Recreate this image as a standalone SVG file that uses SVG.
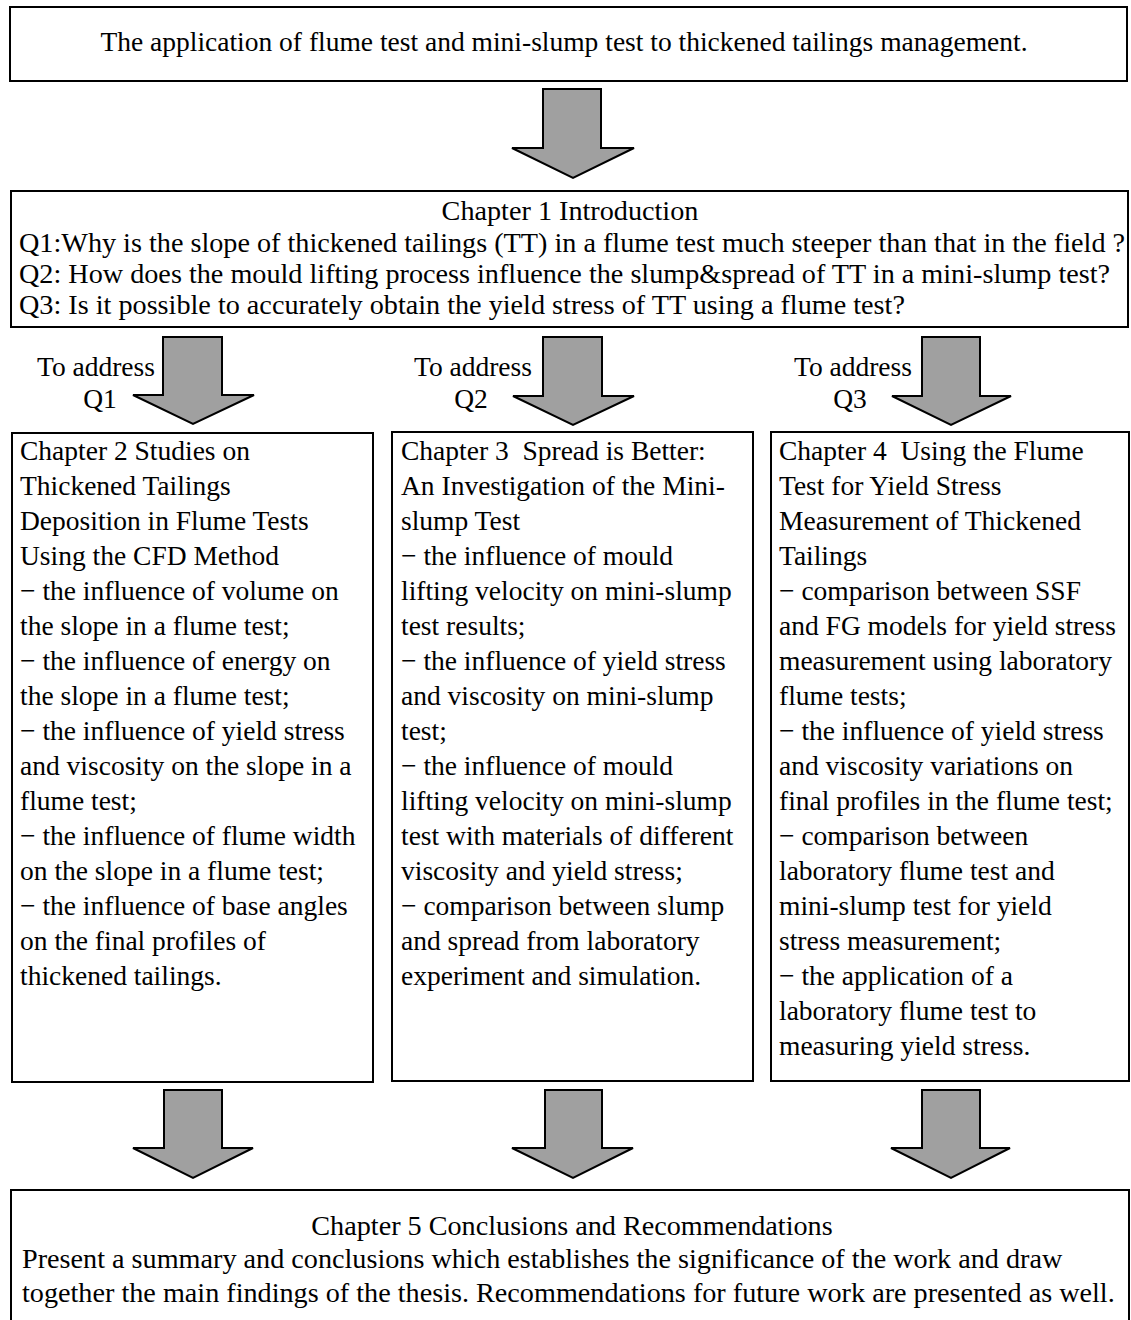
<svg xmlns="http://www.w3.org/2000/svg" width="1131" height="1320" viewBox="0 0 1131 1320">
<style>
.box{fill:#fff;stroke:#000;stroke-width:2}
.arr{fill:#a0a0a0;stroke:#000;stroke-width:2;stroke-linejoin:miter}
text{font-family:"Liberation Serif","Times New Roman",serif;font-size:27.5px;fill:#000}
.c{text-anchor:middle}
.big{font-size:28.2px}
</style>
<rect width="1131" height="1320" fill="#fff"/>
<g id="connectors">
<polygon class="arr" points="543,89 601,89 601,148 634,148 573,178 512,148 543,148"/>
<polygon class="arr" points="163,337 222,337 222,395 254,395 193,424 133,395 163,395"/>
<polygon class="arr" points="543,337 602,337 602,396 634,396 573,425 513,396 543,396"/>
<polygon class="arr" points="922,337 980,337 980,396 1011,396 951,425 892,396 922,396"/>
<polygon class="arr" points="164,1090 222,1090 222,1148 253,1148 193,1178 133,1148 164,1148"/>
<polygon class="arr" points="545,1090 602,1090 602,1148 633,1148 573,1178 512,1148 545,1148"/>
<polygon class="arr" points="922,1090 980,1090 980,1148 1010,1148 951,1178 891,1148 922,1148"/>
<text x="96" y="376" class="c">To address</text>
<text x="100" y="408" class="c">Q1</text>
<text x="473" y="376" class="c">To address</text>
<text x="471" y="408" class="c">Q2</text>
<text x="853" y="376" class="c">To address</text>
<text x="850" y="408" class="c">Q3</text>
</g>
<g id="top">
<rect class="box" x="10" y="7" width="1117" height="74"/>
<text x="564" y="51" class="c">The application of flume test and mini-slump test to thickened tailings management.</text>
</g>
<g id="ch1">
<rect class="box" x="11" y="191" width="1117" height="136"/>
<text x="570" y="220" class="c big">Chapter 1 Introduction</text>
<text x="19" y="252" class="big">Q1:Why is the slope of thickened tailings (TT) in a flume test much steeper than that in the field ?</text>
<text x="19" y="283" class="big">Q2: How does the mould lifting process influence the slump&amp;spread of TT in a mini-slump test?</text>
<text x="19" y="314" class="big">Q3: Is it possible to accurately obtain the yield stress of TT using a flume test?</text>
</g>
<g id="ch2">
<rect class="box" x="12" y="433" width="361" height="649"/>
<text x="20" y="460">Chapter 2 Studies on</text>
<text x="20" y="495">Thickened Tailings</text>
<text x="20" y="530">Deposition in Flume Tests</text>
<text x="20" y="565">Using the CFD Method</text>
<text x="20" y="600">− the influence of volume on</text>
<text x="20" y="635">the slope in a flume test;</text>
<text x="20" y="670">− the influence of energy on</text>
<text x="20" y="705">the slope in a flume test;</text>
<text x="20" y="740">− the influence of yield stress</text>
<text x="20" y="775">and viscosity on the slope in a</text>
<text x="20" y="810">flume test;</text>
<text x="20" y="845">− the influence of flume width</text>
<text x="20" y="880">on the slope in a flume test;</text>
<text x="20" y="915">− the influence of base angles</text>
<text x="20" y="950">on the final profiles of</text>
<text x="20" y="985">thickened tailings.</text>
</g>
<g id="ch3">
<rect class="box" x="392" y="432" width="361" height="649"/>
<text x="401" y="460" xml:space="preserve">Chapter 3  Spread is Better:</text>
<text x="401" y="495">An Investigation of the Mini-</text>
<text x="401" y="530">slump Test</text>
<text x="401" y="565">− the influence of mould</text>
<text x="401" y="600">lifting velocity on mini-slump</text>
<text x="401" y="635">test results;</text>
<text x="401" y="670">− the influence of yield stress</text>
<text x="401" y="705">and viscosity on mini-slump</text>
<text x="401" y="740">test;</text>
<text x="401" y="775">− the influence of mould</text>
<text x="401" y="810">lifting velocity on mini-slump</text>
<text x="401" y="845">test with materials of different</text>
<text x="401" y="880">viscosity and yield stress;</text>
<text x="401" y="915">− comparison between slump</text>
<text x="401" y="950">and spread from laboratory</text>
<text x="401" y="985">experiment and simulation.</text>
</g>
<g id="ch4">
<rect class="box" x="771" y="432" width="358" height="649"/>
<text x="779" y="460" xml:space="preserve">Chapter 4  Using the Flume</text>
<text x="779" y="495">Test for Yield Stress</text>
<text x="779" y="530">Measurement of Thickened</text>
<text x="779" y="565">Tailings</text>
<text x="779" y="600">− comparison between SSF</text>
<text x="779" y="635">and FG models for yield stress</text>
<text x="779" y="670">measurement using laboratory</text>
<text x="779" y="705">flume tests;</text>
<text x="779" y="740">− the influence of yield stress</text>
<text x="779" y="775">and viscosity variations on</text>
<text x="779" y="810">final profiles in the flume test;</text>
<text x="779" y="845">− comparison between</text>
<text x="779" y="880">laboratory flume test and</text>
<text x="779" y="915">mini-slump test for yield</text>
<text x="779" y="950">stress measurement;</text>
<text x="779" y="985">− the application of a</text>
<text x="779" y="1020">laboratory flume test to</text>
<text x="779" y="1055">measuring yield stress.</text>
</g>
<g id="ch5">
<rect class="box" x="11" y="1190" width="1118" height="135"/>
<text x="572" y="1235" class="c big">Chapter 5 Conclusions and Recommendations</text>
<text x="22" y="1268" class="big">Present a summary and conclusions which establishes the significance of the work and draw</text>
<text x="22" y="1302" class="big">together the main findings of the thesis. Recommendations for future work are presented as well.</text>
</g>
</svg>
